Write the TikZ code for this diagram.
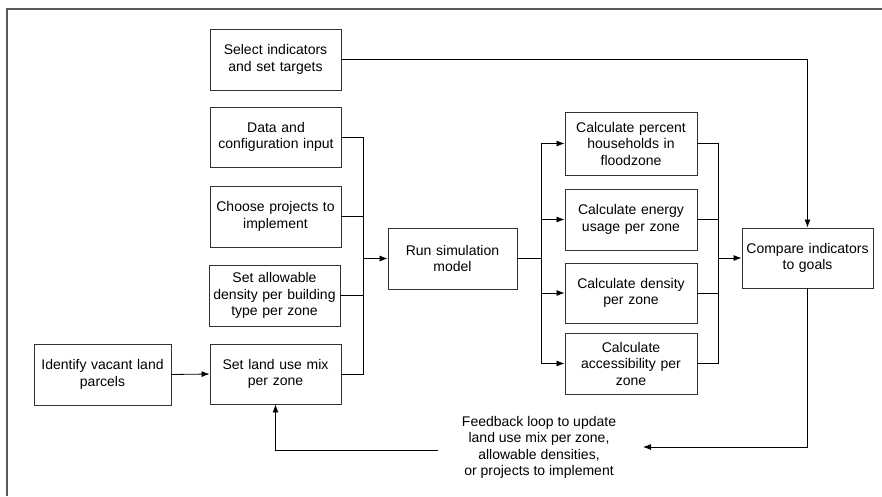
\documentclass[tikz,border=0pt]{standalone}
\usepackage{fontspec}
\setmainfont{Liberation Sans}
\usetikzlibrary{arrows.meta}
\tikzset{
  box/.style={draw=black!80, line width=0.9pt, minimum width=131pt, minimum height=61pt,
    align=center, inner sep=2pt, text width=125pt, font=\fontsize{14}{16.5}\selectfont},
  conn/.style={draw=black, line width=0.8pt},
  arr/.style={conn, -{Latex[length=8pt,width=6pt]}},
}
\begin{document}
\begin{tikzpicture}[x=1pt,y=-1pt]
\useasboundingbox (0,0) rectangle (882,496);
\draw[black!65, line width=1.2pt] (7,496) -- (7,9) -- (882,9);

\node[box] (sel) at (275.5,59.5) {Select indicators\\and set targets};
\node[box, minimum height=60pt] (data) at (276,137) {Data and\\configuration input};
\node[box] (choose) at (275.5,216.5) {Choose projects to\\implement};
\node[box] (allow) at (274.5,295.5) {Set allowable\\density per building\\type per zone};
\node[box, minimum height=60pt] (mix) at (275.5,374) {Set land use mix\\per zone};
\node[box, minimum width=137pt, text width=132pt] (ident) at (102.5,374.5) {Identify vacant land\\parcels};
\node[box, minimum width=129pt, text width=123pt] (run) at (452.5,258.5) {Run simulation\\model};
\node[box, minimum width=132pt, minimum height=63pt] (pct) at (631,143.5) {Calculate percent\\households in\\floodzone};
\node[box, minimum width=132pt] (energy) at (631,219.5) {Calculate energy\\usage per zone};
\node[box, minimum width=132pt, minimum height=60pt] (dens) at (631,293) {Calculate density\\per zone};
\node[box, minimum width=132pt] (acc) at (631,363.5) {Calculate\\accessibility per\\zone};
\node[box, minimum height=60pt] (cmp) at (807.5,258) {Compare indicators\\to goals};
\node[align=center, font=\fontsize{14}{16.5}\selectfont, inner sep=0pt] (fb) at (539,447.5)
  {Feedback loop to update\\land use mix per zone,\\allowable densities,\\or projects to implement};

\coordinate (busA) at (363,0);
\coordinate (busB) at (541,0);
\coordinate (busC) at (718,0);
\coordinate (fbR) at (643,447);
\coordinate (fbL) at (438,450);

% left bus
\draw[conn] (data.east) -- (data.east -| busA) -- (mix.east -| busA) -- (mix.east);
\draw[conn] (choose.east) -- (choose.east -| busA);
\draw[conn] (allow.east) -- (allow.east -| busA);
\draw[arr] (run.west -| busA) -- (run.west);
\draw[arr] (ident.east) -- (mix.west);

% middle bus
\draw[conn] (run.east) -- (run.east -| busB);
\draw[conn] (pct.west -| busB) -- (acc.west -| busB);
\draw[arr] (pct.west -| busB) -- (pct.west);
\draw[arr] (energy.west -| busB) -- (energy.west);
\draw[arr] (dens.west -| busB) -- (dens.west);
\draw[arr] (acc.west -| busB) -- (acc.west);

% right bus
\draw[conn] (pct.east) -- (pct.east -| busC) -- (acc.east -| busC) -- (acc.east);
\draw[conn] (energy.east) -- (energy.east -| busC);
\draw[conn] (dens.east) -- (dens.east -| busC);
\draw[arr] (cmp.west -| busC) -- (cmp.west);

% top and feedback
\draw[arr] (sel.east) -| (cmp.north);
\draw[arr] (cmp.south) |- (fbR);
\draw[arr] (fbL) -| (mix.south);
\end{tikzpicture}
\end{document}
